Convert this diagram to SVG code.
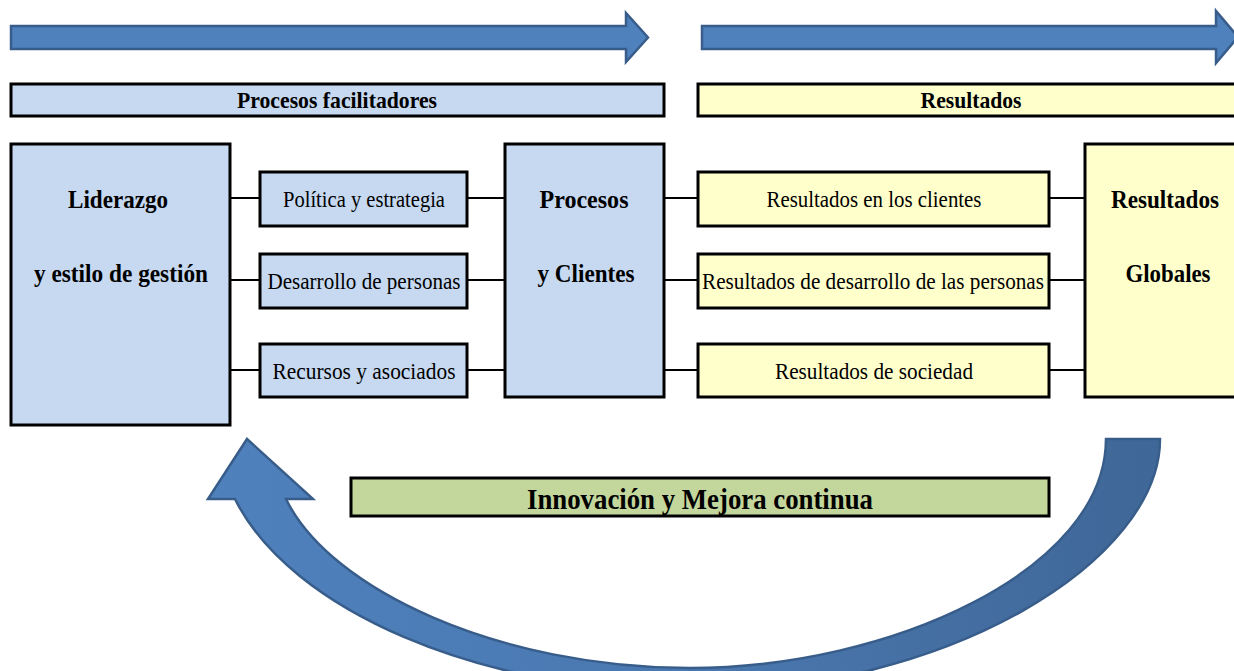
<svg xmlns="http://www.w3.org/2000/svg" width="1234" height="671" viewBox="0 0 1234 671">
<defs>
<style>
.blue{fill:#c6d9f1;stroke:#000;stroke-width:3}
.yel{fill:#ffffcc;stroke:#000;stroke-width:3}
.grn{fill:#c3d69b;stroke:#000;stroke-width:3}
.arr{fill:#4f81bd;stroke:#385d8a;stroke-width:2.5;stroke-linejoin:miter}
.t{font-family:"Liberation Serif","Times New Roman",serif;font-size:22.5px;fill:#000;text-anchor:middle}
.b{font-family:"Liberation Serif","Times New Roman",serif;font-size:25px;font-weight:bold;fill:#000;text-anchor:middle}
.h{font-family:"Liberation Serif","Times New Roman",serif;font-size:22.5px;font-weight:bold;fill:#000;text-anchor:middle}
.conn line{stroke:#000;stroke-width:2}
</style>
<linearGradient id="cg" x1="200" y1="0" x2="1170" y2="0" gradientUnits="userSpaceOnUse">
<stop offset="0" stop-color="#4f81bd"/>
<stop offset="0.5" stop-color="#4a78b0"/>
<stop offset="1" stop-color="#3f6797"/>
</linearGradient>
</defs>

<g id="arrow-top-left">
<polygon class="arr" points="11,26 626,26 626,13 648,37.5 626,62 626,49 11,49"/>
</g>
<g id="arrow-top-right">
<polygon class="arr" points="702,26 1216,26 1216,11 1238,37 1216,63 1216,49 702,49"/>
</g>

<g id="header-procesos">
<rect class="blue" x="11" y="84" width="653" height="32"/>
<text class="h" x="337" y="108" textLength="200" lengthAdjust="spacingAndGlyphs">Procesos facilitadores</text>
</g>
<g id="header-resultados">
<rect class="yel" x="698" y="84" width="550" height="32"/>
<text class="h" x="971" y="108" textLength="101" lengthAdjust="spacingAndGlyphs">Resultados</text>
</g>

<g class="conn" id="connectors">
<line x1="230" y1="198" x2="260" y2="198"/>
<line x1="230" y1="280" x2="260" y2="280"/>
<line x1="230" y1="370" x2="260" y2="370"/>
<line x1="467" y1="198" x2="505" y2="198"/>
<line x1="467" y1="280" x2="505" y2="280"/>
<line x1="467" y1="370" x2="505" y2="370"/>
<line x1="664" y1="198" x2="698" y2="198"/>
<line x1="664" y1="280" x2="698" y2="280"/>
<line x1="664" y1="370" x2="698" y2="370"/>
<line x1="1049" y1="198" x2="1085" y2="198"/>
<line x1="1049" y1="280" x2="1085" y2="280"/>
<line x1="1049" y1="370" x2="1085" y2="370"/>
</g>

<g id="liderazgo">
<rect class="blue" x="11" y="144" width="219" height="281"/>
<text class="b" x="118" y="208" textLength="100" lengthAdjust="spacingAndGlyphs">Liderazgo</text>
<text class="b" x="121" y="282" textLength="174" lengthAdjust="spacingAndGlyphs">y estilo de gestión</text>
</g>

<g id="politica">
<rect class="blue" x="260" y="172" width="207" height="54"/>
<text class="t" x="364" y="207" textLength="162" lengthAdjust="spacingAndGlyphs">Política y estrategia</text>
</g>
<g id="desarrollo">
<rect class="blue" x="260" y="254" width="207" height="54"/>
<text class="t" x="364" y="289" textLength="193" lengthAdjust="spacingAndGlyphs">Desarrollo de personas</text>
</g>
<g id="recursos">
<rect class="blue" x="260" y="344" width="207" height="53"/>
<text class="t" x="364" y="379" textLength="183" lengthAdjust="spacingAndGlyphs">Recursos y asociados</text>
</g>

<g id="procesos-clientes">
<rect class="blue" x="505" y="144" width="159" height="253"/>
<text class="b" x="584" y="208" textLength="89" lengthAdjust="spacingAndGlyphs">Procesos</text>
<text class="b" x="586" y="282" textLength="97" lengthAdjust="spacingAndGlyphs">y Clientes</text>
</g>

<g id="res-clientes">
<rect class="yel" x="698" y="172" width="351" height="54"/>
<text class="t" x="874" y="207" textLength="215" lengthAdjust="spacingAndGlyphs">Resultados en los clientes</text>
</g>
<g id="res-personas">
<rect class="yel" x="698" y="254" width="351" height="54"/>
<text class="t" x="873" y="289" textLength="342" lengthAdjust="spacingAndGlyphs">Resultados de desarrollo de las personas</text>
</g>
<g id="res-sociedad">
<rect class="yel" x="698" y="344" width="351" height="53"/>
<text class="t" x="874" y="379" textLength="198" lengthAdjust="spacingAndGlyphs">Resultados de sociedad</text>
</g>

<g id="res-globales">
<rect class="yel" x="1085" y="144" width="163" height="253"/>
<text class="b" x="1165" y="208" textLength="108" lengthAdjust="spacingAndGlyphs">Resultados</text>
<text class="b" x="1168" y="282" textLength="85" lengthAdjust="spacingAndGlyphs">Globales</text>
</g>

<g id="innovacion">
<rect class="grn" x="351" y="478" width="698" height="38"/>
<text class="h" style="font-size:29px" x="700" y="509" textLength="346" lengthAdjust="spacingAndGlyphs">Innovación y Mejora continua</text>
</g>

<g id="arrow-cycle">
<path d="M1106,439 L1160,439 C1160,560 950,692 690,692 C480,692 290,610 235,499 L208,499 L247,439 L313,499 L286,499 C330,590 500,668 690,668 C890,668 1106,570 1106,439 Z" fill="url(#cg)" stroke="#385d8a" stroke-width="2.5" stroke-linejoin="miter"/>
</g>
</svg>
